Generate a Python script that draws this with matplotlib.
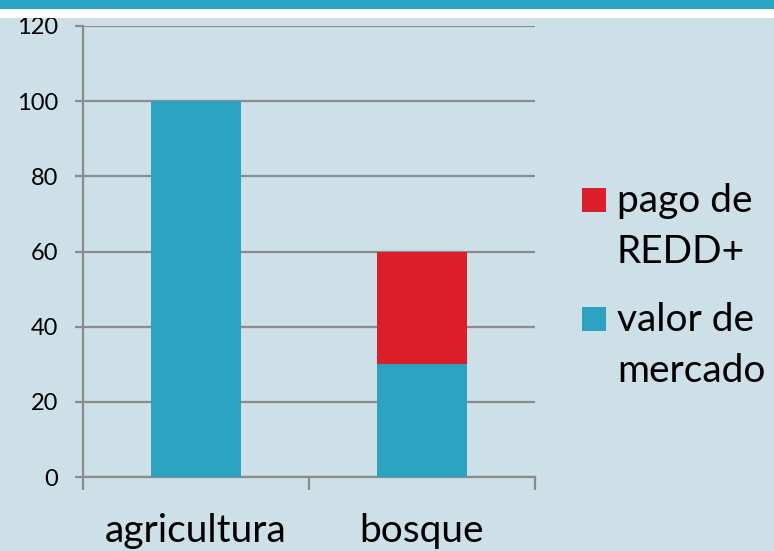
import matplotlib.pyplot as plt
from matplotlib.patches import Rectangle

categories = ["agricultura", "bosque"]
valor_mercado = [100, 30]
pago_redd = [0, 30]
series_labels = ["pago de\nREDD+", "valor de\nmercado"]
yticks = [0, 20, 40, 60, 80, 100, 120]

teal = "#2ca3c1"
red = "#db1f2a"
bg = "#cddfe7"
grid = "#8c8c8c"

plt.rcParams["font.family"] = ["Lato", "DejaVu Sans"]

fig = plt.figure(figsize=(7.74, 5.51), dpi=100)
fig.patch.set_facecolor(bg)
# header band
fig.patches.append(Rectangle((0, 1 - 9 / 551), 1, 9 / 551, transform=fig.transFigure,
                             facecolor=teal, edgecolor="none"))
fig.patches.append(Rectangle((0, 1 - 18 / 551), 1, 9 / 551, transform=fig.transFigure,
                             facecolor="white", edgecolor="none"))

ax = fig.add_axes([83 / 774, 1 - 477 / 551, 452 / 774, 451 / 551])
ax.set_facecolor(bg)

x = range(len(categories))
ax.bar(x, valor_mercado, width=0.4, color=teal, zorder=3)
ax.bar(x, pago_redd, width=0.4, bottom=valor_mercado, color=red, zorder=3)

ax.set_xlim(-0.5, 1.5)
ax.set_ylim(0, 120)
ax.set_yticks(yticks)
ax.set_yticklabels([str(v) for v in yticks], fontsize=17)
ax.yaxis.grid(True, color=grid, linewidth=1.6, zorder=0)
ax.tick_params(axis="y", length=6, width=1.6, color=grid, pad=12)

ax.set_xticks([0, 1])
ax.set_xticklabels(categories, fontsize=28)
ax.tick_params(axis="x", length=0, pad=26)
ax.set_xticks([-0.5, 0.5, 1.5], minor=True)
ax.tick_params(axis="x", which="minor", length=9, width=1.6, color=grid)

for s in ["top", "right"]:
    ax.spines[s].set_visible(False)
for s in ["left", "bottom"]:
    ax.spines[s].set_color(grid)
    ax.spines[s].set_linewidth(1.6)

# legend drawn by hand to keep the square beside the first line
legend_colors = [red, teal]
legend_baselines = [212, 331]
for lab, col, base in zip(series_labels, legend_colors, legend_baselines):
    fig.patches.append(Rectangle((582 / 774, 1 - base / 551), 24 / 774, 24 / 551,
                                 transform=fig.transFigure, facecolor=col, edgecolor="none"))
    for i, line in enumerate(lab.split("\n")):
        fig.text(617 / 774, 1 - (base + 51 * i) / 551, line, fontsize=28,
                 va="baseline", ha="left")

fig.savefig("out.png", dpi=100, facecolor=bg)
